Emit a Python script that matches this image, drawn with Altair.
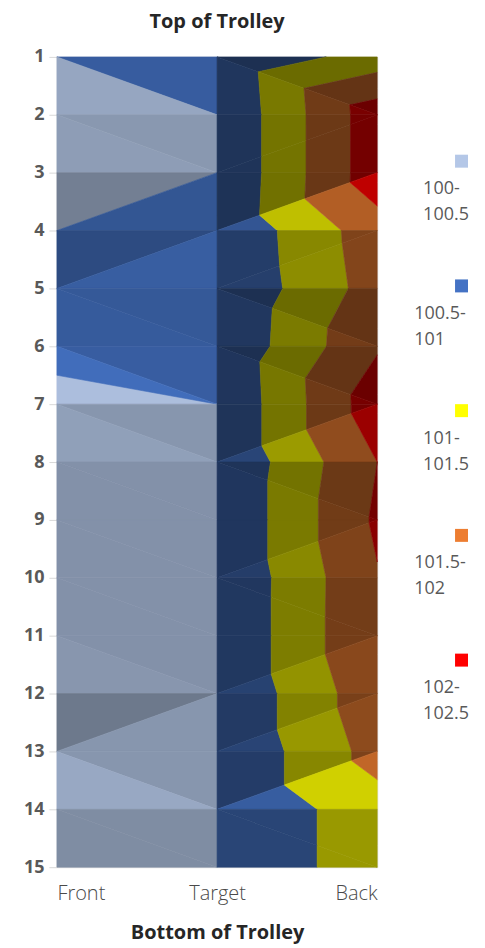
import altair as alt
import pandas as pd
import numpy as np

# ---- data ----
rows = list(range(1, 16))
x_labels = ["Front", "Target", "Back"]
front = [100.5, 100.4, 100.35, 100.5, 100.65, 100.65, 100.35, 100.25, 100.25,
         100.25, 100.25, 100.2, 100.35, 100.15, 100.15]
target = [100.55, 100.5, 100.5, 100.53, 100.5, 100.53, 100.5, 100.5, 100.5,
          100.5, 100.5, 100.5, 100.5, 100.5, 100.5]
back = [101.21, 102.3, 102.3, 101.78, 101.72, 101.95, 102.29, 102.0, 102.08,
        101.97, 101.98, 101.83, 101.69, 101.3, 101.3]
# triangulation diagonal of each cell (strip r..r+1): Front-Target cells, Target-Back cells
diag_left = ["\\", "\\", "/", "/", "\\", "\\", "\\", "\\", "\\", "\\", "\\", "/", "\\", "\\"]
diag_right = ["\\", "/", "/", "/", "\\", "\\", "/", "\\", "/", "\\", "/", "/", "/", "\\"]
band_labels = ["100-100.5", "100.5-101", "101-101.5", "101.5-102", "102-102.5"]
band_lo = [100.0, 100.5, 101.0, 101.5, 102.0]
band_hi = [100.5, 101.0, 101.5, 102.0, 102.5]
band_colors = ["#B4C7E7", "#4472C4", "#FFFF00", "#ED7D31", "#FF0000"]

# ---- surface: triangles, value bands, lighting ----
grid = np.array([front, target, back]).T  # [row, col]
AMB, KX, KY, KZ = 0.42, 0.16, 0.76, 0.36


def shade(tri):
    A = np.array([[p[0], p[1], 1.0] for p in tri])
    vv = np.array([p[2] for p in tri])
    gx, gy, _ = np.linalg.solve(A, vv)
    d = (-KX * gx - KY * gy + KZ) / np.sqrt(1 + gx * gx + gy * gy)
    return min(1.0, AMB + max(0.0, d))


def clip_half(poly, keep, level):
    out = []
    n = len(poly)
    for i in range(n):
        a, b = poly[i], poly[(i + 1) % n]
        ia, ib = keep(a[2]), keep(b[2])
        if ia:
            out.append(a)
        if ia != ib:
            t = (level - a[2]) / (b[2] - a[2])
            out.append((a[0] + t * (b[0] - a[0]), a[1] + t * (b[1] - a[1]), level))
    return out


def poly_area(p):
    s = 0.0
    for i in range(len(p)):
        x1, y1 = p[i][0], p[i][1]
        x2, y2 = p[(i + 1) % len(p)][0], p[(i + 1) % len(p)][1]
        s += x1 * y2 - x2 * y1
    return abs(s) / 2


def scale_hex(h, f):
    r, g, b = int(h[1:3], 16), int(h[3:5], 16), int(h[5:7], 16)
    return "#%02x%02x%02x" % tuple(int(round(c * f)) for c in (r, g, b))


recs = []
pid = 0
for i in range(len(rows) - 1):
    r = rows[i]
    for c, dlist in ((0, diag_left), (1, diag_right)):
        P = lambda cc, rr: (cc, rr, grid[rr - 1, cc])
        if dlist[i] == "\\":
            tris = [[P(c, r), P(c + 1, r), P(c + 1, r + 1)],
                    [P(c, r), P(c, r + 1), P(c + 1, r + 1)]]
        else:
            tris = [[P(c, r), P(c + 1, r), P(c, r + 1)],
                    [P(c + 1, r), P(c + 1, r + 1), P(c, r + 1)]]
        for tri in tris:
            f = shade(tri)
            for lo, hi, col in zip(band_lo, band_hi, band_colors):
                p = clip_half(tri, lambda v: v >= lo - 1e-9, lo)
                if len(p) < 3:
                    continue
                p = clip_half(p, lambda v: v <= hi + 1e-9, hi)
                if len(p) < 3 or poly_area(p) < 1e-7:
                    continue
                fill = scale_hex(col, f)
                ys = sorted(set(round(q[1], 9) for q in p))
                for yv in ys:
                    xs = []
                    for k in range(len(p)):
                        a, b = p[k], p[(k + 1) % len(p)]
                        y0, y1 = min(a[1], b[1]), max(a[1], b[1])
                        if y0 - 1e-9 <= yv <= y1 + 1e-9:
                            if abs(b[1] - a[1]) < 1e-9:
                                xs += [a[0], b[0]]
                            else:
                                t = (yv - a[1]) / (b[1] - a[1])
                                xs.append(a[0] + t * (b[0] - a[0]))
                    recs.append({"pid": pid, "y": yv, "xl": min(xs), "xr": max(xs), "fill": fill})
                pid += 1

df = pd.DataFrame(recs)

label_expr = "[" + ",".join("'%s'" % s for s in x_labels) + "][datum.value]"

surface = alt.Chart(df).mark_area(orient="horizontal", strokeWidth=0.6, interpolate="linear").encode(
    y=alt.Y("y:Q", scale=alt.Scale(domain=[rows[0], rows[-1]], reverse=True, nice=False, zero=False),
            axis=alt.Axis(values=rows, title=None, labelFontWeight="bold", labelFontSize=18,
                          labelColor="#595959", tickColor="#d9d9d9", tickSize=8, labelPadding=5,
                          domain=False, grid=False)),
    x=alt.X("xl:Q", stack=None, scale=alt.Scale(domain=[0, 2], nice=False, zero=False),
            axis=alt.Axis(values=[0, 1, 2], labelExpr=label_expr, labelFlush=True, ticks=False,
                          domain=False, grid=False, labelFontSize=20, labelColor="#4a4a4a",
                          labelFontWeight=300, labelPadding=16, title="Bottom of Trolley",
                          titleFontSize=20, titleFontWeight="bold", titleColor="#262626",
                          titlePadding=19)),
    x2="xr:Q",
    detail="pid:N",
    fill=alt.Fill("fill:N", scale=None),
    stroke=alt.Stroke("fill:N", scale=None),
)

# ---- legend (swatch above a two-line label, as in the source) ----
def two_lines(lbl):
    a, b = lbl.split("-")
    return a + "-" + "\n" + b


def narrow_first(lbl):
    a, b = lbl.split("-")
    return 1 if len(a) + 1 < len(b) else 0


leg_df = pd.DataFrame({"idx": list(range(len(band_labels))), "band": band_labels,
                       "text": [two_lines(s) for s in band_labels],
                       "shift": [narrow_first(s) for s in band_labels]})
leg_y = alt.Y("idx:Q", scale=alt.Scale(domain=[-0.836, 5.66], reverse=True, nice=False, zero=False),
              axis=None)

leg_sq = alt.Chart(leg_df).mark_square(size=169, opacity=1).encode(
    x=alt.value(405.5),
    y=leg_y,
    color=alt.Color("band:N", scale=alt.Scale(domain=band_labels, range=band_colors), legend=None),
)
txt_style = dict(align="left", baseline="middle", lineBreak="\n", lineHeight=26,
                 fontSize=18, color="#595959", dy=28)
leg_txt_a = alt.Chart(leg_df).transform_filter("datum.shift == 1").mark_text(dx=9, **txt_style).encode(
    x=alt.value(358), y=leg_y, text="text:N")
leg_txt_b = alt.Chart(leg_df).transform_filter("datum.shift == 0").mark_text(dx=0, **txt_style).encode(
    x=alt.value(358), y=leg_y, text="text:N")

chart = alt.layer(surface, leg_sq, leg_txt_a, leg_txt_b).resolve_scale(y="independent").properties(
    width=321, height=812,
    title=alt.TitleParams("Top of Trolley", fontSize=20, fontWeight="bold", color="#262626",
                          anchor="middle", offset=16),
    autosize=alt.AutoSizeParams(type="none"),
    padding={"left": 49, "top": 48, "right": 100, "bottom": 84},
).configure(font="Open Sans").configure_view(stroke="#d9d9d9")

chart.save("out.html", embed_options={"renderer": "svg", "actions": False})
